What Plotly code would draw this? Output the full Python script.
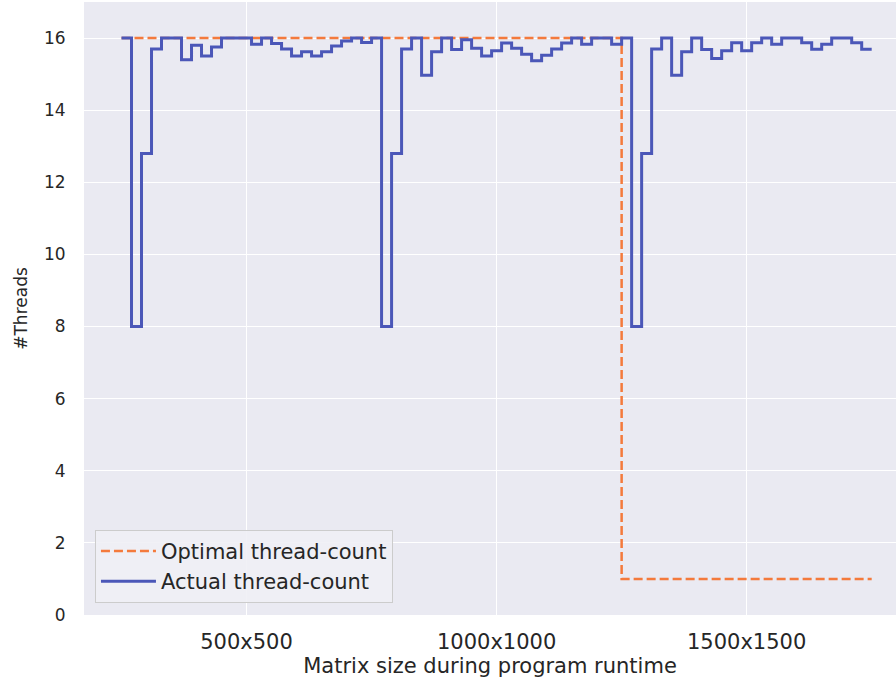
import plotly.graph_objects as go

# Optimal thread-count (step)
opt_x = [250, 1250, 1750]
opt_y = [16, 1, 1]

# Actual thread-count (step, one value per matrix size)
act_x = [250, 270, 290, 310, 330, 350, 370, 390, 410, 430,
         450, 470, 490, 510, 530, 550, 570, 590, 610, 630,
         650, 670, 690, 710, 730, 750, 770, 790, 810, 830,
         850, 870, 890, 910, 930, 950, 970, 990, 1010, 1030,
         1050, 1070, 1090, 1110, 1130, 1150, 1170, 1190, 1210, 1230,
         1250, 1270, 1290, 1310, 1330, 1350, 1370, 1390, 1410, 1430,
         1450, 1470, 1490, 1510, 1530, 1550, 1570, 1590, 1610, 1630,
         1650, 1670, 1690, 1710, 1730, 1750]
act_y = [16, 8, 12.8, 15.7, 16, 16, 15.4, 15.8, 15.5, 15.75,
         16, 16, 16, 15.83, 16, 15.85, 15.7, 15.5, 15.62, 15.5,
         15.62, 15.78, 15.92, 16, 15.88, 16, 8, 12.8, 15.7, 16,
         14.97, 15.62, 16, 15.68, 15.95, 15.72, 15.5, 15.65, 15.86, 15.72,
         15.55, 15.37, 15.52, 15.7, 15.86, 16, 15.83, 16, 16, 15.83,
         16, 8, 12.8, 15.7, 16, 14.97, 15.62, 16, 15.68, 15.43,
         15.65, 15.87, 15.65, 15.87, 16, 15.83, 16, 16, 15.87, 15.69,
         15.83, 16, 16, 15.87, 15.69, 15.69]

x_tickvals = [500, 1000, 1500]
x_ticktext = ["500x500", "1000x1000", "1500x1500"]
y_tickvals = [0, 2, 4, 6, 8, 10, 12, 14, 16]

FONT = "DejaVu Sans"
TXT = "#262626"
FS = 21
FSY = 17

fig = go.Figure()
fig.add_trace(go.Scatter(
    x=opt_x, y=opt_y, mode="lines", line_shape="hv",
    name="Optimal thread-count",
    line=dict(color="#F47A3C", width=2.5, dash="9px,4px"),
))
fig.add_trace(go.Scatter(
    x=act_x, y=act_y, mode="lines", line_shape="hv",
    name="Actual thread-count",
    line=dict(color="#4B57B8", width=3),
))

fig.update_layout(
    width=896, height=684,
    margin=dict(l=84, r=0, t=2, b=69),
    paper_bgcolor="white",
    plot_bgcolor="#EAEAF2",
    font=dict(family=FONT, size=FS, color=TXT),
    showlegend=True,
    legend=dict(
        x=0.0135, y=0.02, xanchor="left", yanchor="bottom",
        bgcolor="rgba(240,240,245,0.9)",
        bordercolor="#CCCCCC", borderwidth=1,
        font=dict(family=FONT, size=FS, color=TXT),
        itemwidth=55, tracegroupgap=0,
    ),
    xaxis=dict(
        range=[175, 1798.6],
        tickvals=x_tickvals, ticktext=x_ticktext,
        showgrid=True, gridcolor="white", gridwidth=1.3,
        zeroline=False, showline=False,
        ticks="outside", ticklen=8, tickcolor="rgba(0,0,0,0)",
        tickfont=dict(family=FONT, size=FS, color=TXT),
        title=dict(text="Matrix size during program runtime", standoff=4,
                   font=dict(family=FONT, size=FS, color=TXT)),
    ),
    yaxis=dict(
        range=[0, 17],
        tickvals=y_tickvals,
        showgrid=True, gridcolor="white", gridwidth=1.3,
        zeroline=False, showline=False,
        ticks="outside", ticklen=14, tickcolor="rgba(0,0,0,0)",
        tickfont=dict(family=FONT, size=FSY, color=TXT),
        title=dict(text="#Threads", standoff=12,
                   font=dict(family=FONT, size=FSY, color=TXT)),
    ),
)

fig.write_html("out.html")
